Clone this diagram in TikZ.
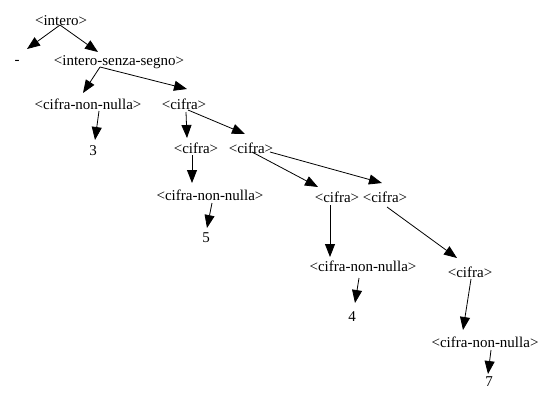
\documentclass[tikz,border=0pt]{standalone}
\usepackage{fontspec}
\setmainfont{Liberation Serif}
\usetikzlibrary{calc,arrows.meta}

\begin{document}
\begin{tikzpicture}[x=1pt,y=-1pt,
	sym/.style={inner sep=0pt,font=\fontsize{15}{17}\selectfont},
	arc/.style={line width=0.8pt,-{Triangle[length=13pt,width=10pt]}}]

	\useasboundingbox (0,0) rectangle (551,392);

	% symbols of the derivation tree
	\node[sym] (intero) at (61,21) {<intero>};
	\node[sym] (meno)   at (17,62) {-};
	\node[sym] (iss)    at (119,62) {<intero-senza-segno>};
	\node[sym] (cnnA)   at (88,104) {<cifra-non-nulla>};
	\node[sym] (cA)     at (184,104) {<cifra>};
	\node[sym] (tre)    at (93,151) {3};
	\node[sym] (cB)     at (196,148) {<cifra>};
	\node[sym] (cC)     at (251,148) {<cifra>};
	\node[sym] (cnnB)   at (210,195) {<cifra-non-nulla>};
	\node[sym] (cinque) at (206,238) {5};
	\node[sym] (cD)     at (337,197) {<cifra>};
	\node[sym] (cE)     at (385,197) {<cifra>};
	\node[sym] (cnnC)   at (363,266) {<cifra-non-nulla>};
	\node[sym] (quattro) at (352,317) {4};
	\node[sym] (cF)     at (470,272) {<cifra>};
	\node[sym] (cnnD)   at (485,342) {<cifra-non-nulla>};
	\node[sym] (sette)  at (489,382) {7};

	% edges
	\draw[arc] ($(intero.center)+(-1,4)$) -- ($(meno.center)+(10,-13)$);
	\draw[arc] ($(intero.center)+(-1,4)$) -- ($(iss.center)+(-21,-10)$);
	\draw[arc] ($(iss.center)+(-19,5)$) -- ($(cnnA.center)+(-5,-11)$);
	\draw[arc] ($(iss.center)+(-19,5)$) -- ($(cA.center)+(3,-15)$);
	\draw[arc] ($(cnnA.center)+(11,7)$) -- ($(tre.center)+(2,-11)$);
	\draw[arc] ($(cA.center)+(2,8)$) -- ($(cB.center)+(-9,-10)$);
	\draw[arc] ($(cA.center)+(4,6)$) -- ($(cC.center)+(-6,-14)$);
	\draw[arc] ($(cB.center)+(-4,7)$) -- ($(cnnB.center)+(-18,-12)$);
	\draw[arc] ($(cnnB.center)+(2,8)$) -- ($(cinque.center)+(1,-10)$);
	\draw[arc] ($(cC.center)+(1,4)$) -- ($(cD.center)+(-19,-10)$);
	\draw[arc] ($(cC.center)+(19,4)$) -- ($(cE.center)+(-3,-14)$);
	\draw[arc] ($(cD.center)+(-7,8)$) -- ($(cnnC.center)+(-33,-9)$);
	\draw[arc] ($(cE.center)+(2,10)$) -- ($(cF.center)+(-13,-14)$);
	\draw[arc] ($(cnnC.center)+(-4,12)$) -- ($(quattro.center)+(3,-14)$);
	\draw[arc] ($(cF.center)+(1,7)$) -- ($(cnnD.center)+(-22,-12)$);
	\draw[arc] ($(cnnD.center)+(6,8)$) -- ($(sette.center)+(-1,-8)$);

\end{tikzpicture}
\end{document}
